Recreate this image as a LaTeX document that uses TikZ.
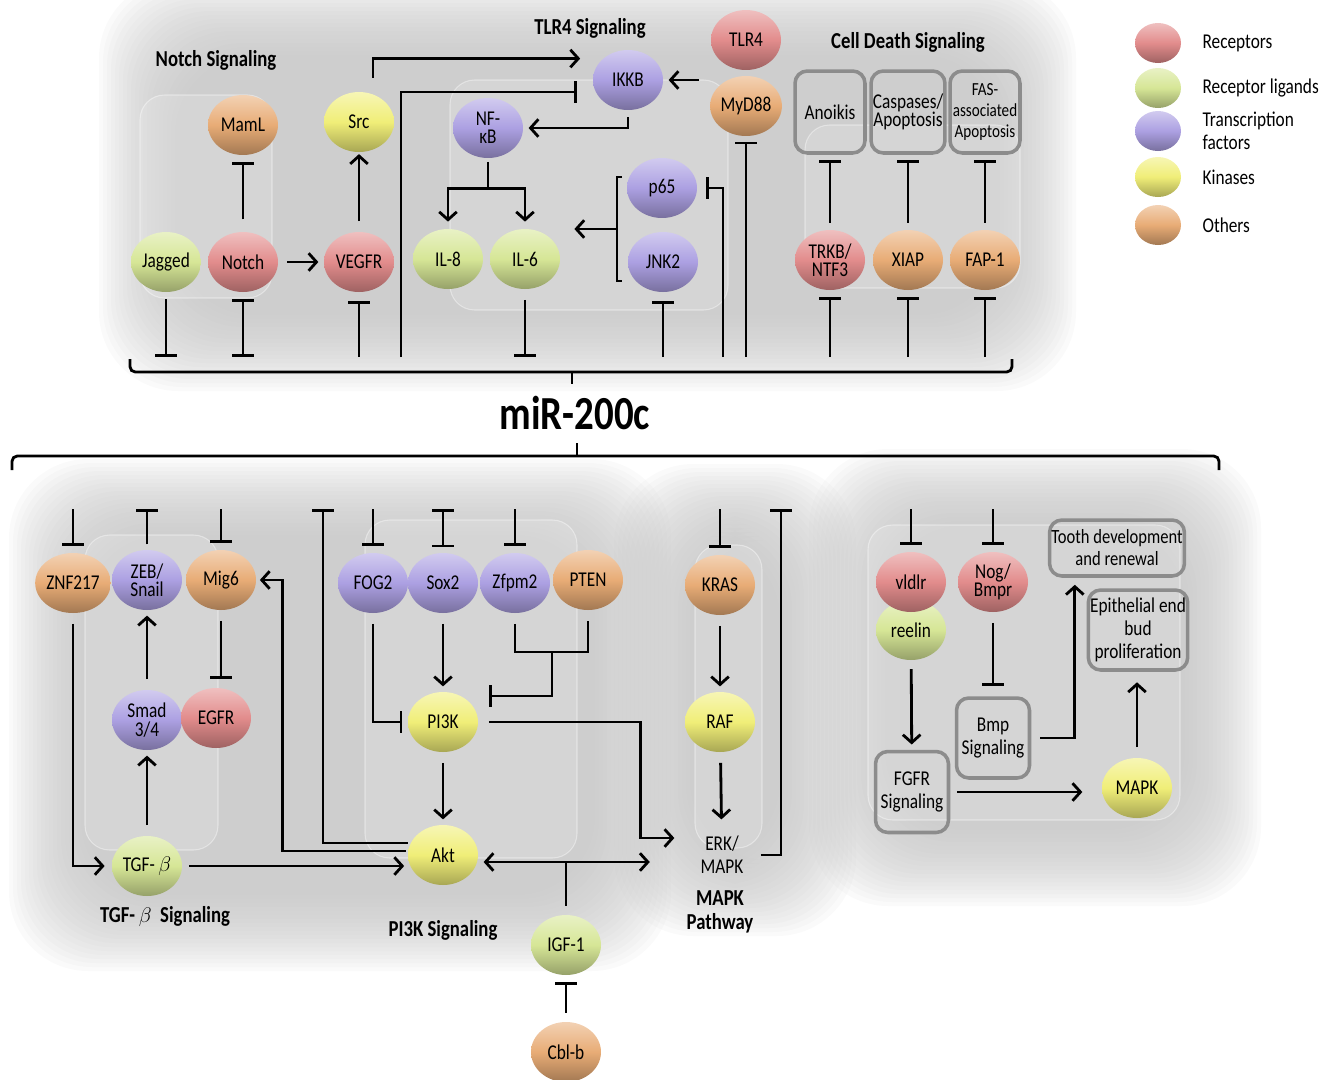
\documentclass[tikz,border=0pt]{standalone}
\usepackage{fontspec}
\setmainfont{Carlito}[FakeStretch=0.82]
\usetikzlibrary{shapes.geometric, arrows.meta, positioning, calc}

\definecolor{recc}{RGB}{226,140,140}
\definecolor{ligc}{RGB}{214,230,150}
\definecolor{tfc}{RGB}{172,160,226}
\definecolor{kinc}{RGB}{240,238,120}
\definecolor{othc}{RGB}{232,172,118}

\newcommand{\molfont}{\fontsize{12}{10.5}\selectfont}
\newcommand{\ttlfont}{\fontsize{13}{14}\selectfont\bfseries}
\newcommand{\lgfont}{\fontsize{12}{13}\selectfont}

% soft grey zone behind a group
\newcommand{\softzone}[4]{%
  \foreach \k in {0,...,19} {
    \fill[black!24, opacity=0.08, rounded corners=45pt]
      ({#1-\k*4},{#2-\k*4}) rectangle ({#3+\k*4},{#4+\k*4});
  }}

\tikzset{
  mol/.style={ellipse, minimum width=1.4cm, minimum height=1.2cm, inner sep=0pt,
    align=center, font=\molfont,
    top color=#1!55!white, bottom color=#1!70!black, middle color=#1},
  proc/.style={draw=black!45, line width=2pt, rounded corners=7pt,
    align=center, font=\molfont, inner sep=1pt},
  line/.style={line width=1.6pt},
  act/.style={line, -{Straight Barb[length=4.5pt,width=10pt]}},
  dact/.style={line, {Straight Barb[length=4.5pt,width=10pt]}-{Straight Barb[length=4.5pt,width=10pt]}},
  inh/.style={line, -{Bar[width=12pt]}},
  dinh/.style={line, {Bar[width=12pt]}-{Bar[width=12pt]}},
  ttl/.style={font=\ttlfont, align=center},
  panel/.style={fill=white, fill opacity=0.15, draw=white, draw opacity=0.4,
    line width=0.6pt, rounded corners=14pt}
}

\begin{document}
\begin{tikzpicture}[x=0.02cm, y=-0.02cm]
\useasboundingbox (0,0) rectangle (1329,1079);

% Grey zones
\softzone{175}{55}{1000}{315}
\softzone{85}{535}{595}{895}
\softzone{690}{540}{780}{860}
\softzone{885}{525}{1185}{830}

% Inner panels
\path[panel] (140,95) rectangle (272,298);
\path[panel] (450,80) rectangle (728,310);
\path[panel] (805,125) rectangle (1020,288);
\path[panel] (85,535) rectangle (218,850);
\path[panel] (365,520) rectangle (577,858);
\path[panel] (695,545) rectangle (762,848);
\path[panel] (868,525) rectangle (1180,820);

% Titles
\node[ttl] (tnotch) at (216,60) {Notch Signaling};
\node[ttl] (ttlr) at (590,28) {TLR4 Signaling};
\node[ttl] (tdeath) at (908,42) {Cell Death Signaling};
\node[ttl] (ttgf) at (165,917) {TGF-\,$\beta$\ \ Signaling};
\node[ttl] (tpi3k) at (443,930) {PI3K Signaling};
\node[ttl] (tmapk) at (720,912) {MAPK\\Pathway};

% Notch / TLR4 / cell death molecules
\node[mol=othc] (maml) at (243,125) {MamL};
\node[mol=kinc] (src) at (359,122) {Src};
\node[mol=ligc] (jag) at (166,262) {Jagged};
\node[mol=recc] (notch) at (243,262) {Notch};
\node[mol=recc] (vegfr) at (359,262) {VEGFR};
\node[mol=tfc] (ikkb) at (628,80) {IKKB};
\node[mol=recc] (tlr) at (746,40) {TLR4};
\node[mol=othc] (myd) at (746,106) {MyD88};
\node[mol=tfc] (nfkb) at (488,128) {NF-\\κB};
\node[mol=tfc] (p65) at (662,188) {p65};
\node[mol=tfc] (jnk) at (663,262) {JNK2};
\node[mol=ligc] (il8) at (448,259) {IL-8};
\node[mol=ligc] (il6) at (525,259) {IL-6};
\node[mol=recc] (trkb) at (830,260) {TRKB/\\NTF3};
\node[mol=othc] (xiap) at (908,260) {XIAP};
\node[mol=othc] (fap) at (985,260) {FAP-1};
\node[proc, minimum width=1.4cm, minimum height=1.64cm] (anoikis) at (830,112) {Anoikis};
\node[proc, minimum width=1.46cm, minimum height=1.64cm] (casp) at (908,112) {Caspases/\\Apoptosis};
\node[proc, minimum width=1.4cm, minimum height=1.64cm,
  font=\fontsize{10.5}{12}\selectfont] (fasap) at (985,112) {FAS-\\associated\\Apoptosis};

% Legend
\foreach \c/\lbl/\y [count=\i] in {recc/Receptors/43, ligc/Receptor ligands/88,
    tfc/{Transcription\\factors}/131, kinc/Kinases/177, othc/Others/225} {
  \node[mol=\c, minimum width=0.92cm, minimum height=0.8cm] (lg\i) at (1158,\y) {};
  \node[right=0.3cm of lg\i, align=left, font=\lgfont] (lgt\i) {\lbl};
}

% miR-200c and braces
\coordinate (tb) at (572,357);
\coordinate (bb) at (577,509);
\draw[line, rounded corners=3pt] (130,359) -- (130,372) -- (1012,372) -- (1012,359);
\draw[line] (572,372) -- (572,384);
\node[font=\fontsize{27}{28}\selectfont\bfseries] (mir) at (575,413) {miR-200c};
\draw[line, rounded corners=3pt] (12,470) -- (12,456) -- (1219,456) -- (1219,470);
\draw[line] (577,456) -- (577,443);

% free ends
\coordinate (ikkbin) at (401,357);
\coordinate (p65in) at (723,357);
\coordinate (aktout) at (323,509);
\coordinate (erkout) at (781,509);
\coordinate (zpm) at (552,652);
\coordinate (brk) at (617,229);

% Top connectors
\draw[inh, shorten <=7pt, shorten >=4pt] (notch) -- (maml);
\draw[act, shorten <=5pt, shorten >=3pt] (notch) -- (vegfr);
\draw[act, shorten <=6pt, shorten >=1pt] (vegfr) -- (src);
\draw[act, shorten >=13pt] ([xshift=0.28cm,yshift=0.28cm]src.north) |- (ikkb.north west);
\draw[inh, shorten >=9pt] (ikkbin) |- ([yshift=-0.24cm]ikkb.west);
\draw[act, shorten <=6pt, shorten >=3pt] (ikkb.east -| myd.west) -- (ikkb.east);
\draw[act, shorten <=4pt, shorten >=3pt] (ikkb.south) |- (nfkb.east);
\draw[line, shorten <=2pt] (nfkb.south) -- ++(0,30) coordinate (nfs);
\draw[act, shorten >=4pt] (nfs) -| (il8);
\draw[act, shorten >=4pt] (nfs) -| (il6);
\draw[line] (622,177) -- (617,177) -- (617,281) -- (622,281);
\draw[act, shorten >=8pt] (brk) -- (brk -| il6.east);

\draw[inh, shorten <=4pt] (jag.south) -- (jag.south |- tb);
\draw[dinh, shorten <=4pt] (notch.south) -- (notch.south |- tb);
\draw[inh, shorten >=5pt] (vegfr.south |- tb) -- (vegfr.south);
\draw[inh, shorten <=6pt] (il6.south) -- (il6.south |- tb);
\draw[inh, shorten >=5pt] (jnk.south |- tb) -- (jnk.south);
\draw[inh, shorten >=5pt] (p65in) |- (p65.east);
\draw[inh, shorten >=3pt] (myd.south |- tb) -- (myd.south);
\foreach \m/\b in {trkb/anoikis, xiap/casp, fap/fasap} {
  \draw[inh, shorten <=4pt, shorten >=3pt] (\m) -- (\b);
  \draw[inh, shorten >=4pt] (\m.south |- tb) -- (\m.south);
}

% TGF-beta molecules
\node[mol=othc] (znf) at (73,583) {ZNF217};
\node[mol=tfc] (zeb) at (147,580) {ZEB/\\Snail};
\node[mol=othc] (mig) at (221,580) {Mig6};
\node[mol=tfc] (smad) at (147,720) {Smad\\3/4};
\node[mol=recc] (egfr) at (216,718) {EGFR};
\node[mol=ligc] (tgf) at (147,866) {TGF-\,$\beta$};

% PI3K / MAPK molecules
\node[mol=tfc] (fog) at (373,583) {FOG2};
\node[mol=tfc] (sox) at (443,583) {Sox2};
\node[mol=tfc] (zfpm) at (515,583) {Zfpm2};
\node[mol=othc] (pten) at (588,580) {PTEN};
\node[mol=kinc] (pi3k) at (443,722) {PI3K};
\node[mol=kinc] (akt) at (443,855) {Akt};
\node[mol=ligc] (igf) at (566,945) {IGF-1};
\node[mol=othc] (cbl) at (566,1052) {Cbl-b};
\node[mol=othc] (kras) at (720,585) {KRAS};
\node[mol=kinc] (raf) at (720,722) {RAF};
\node[minimum width=1.4cm, minimum height=1.2cm, inner sep=0pt, align=center,
  font=\fontsize{12}{13}\selectfont] (erk) at (722,855) {ERK/\\MAPK};

% Tooth molecules
\node[mol=ligc] (reelin) at (911,630) {reelin};
\node[mol=recc] (vldlr) at (911,582) {vldlr};
\node[mol=recc] (nog) at (993,582) {Nog/\\Bmpr};
\node[mol=kinc] (mapk) at (1137,788) {MAPK};
\node[proc, minimum width=2.66cm, minimum height=1.12cm,
  font=\fontsize{11.5}{12.5}\selectfont] (tooth) at (1117,548) {Tooth development\\and renewal};
\node[proc, minimum width=1.98cm, minimum height=1.6cm,
  font=\fontsize{12}{13}\selectfont] (epi) at (1138,630) {Epithelial end\\bud\\proliferation};
\node[proc, minimum width=1.46cm, minimum height=1.6cm,
  font=\fontsize{12}{13}\selectfont] (bmp) at (993,738) {Bmp\\Signaling};
\node[proc, minimum width=1.46cm, minimum height=1.62cm,
  font=\fontsize{12}{13}\selectfont] (fgfr) at (912,792) {FGFR\\Signaling};

% Bottom connectors
\foreach \m in {znf, mig, fog, zfpm, kras, vldlr, nog}
  \draw[inh, shorten >=4pt] (\m.north |- bb) -- (\m.north);
\draw[inh, shorten <=3pt] (zeb.north) -- (zeb.north |- bb);
\draw[dinh, shorten <=3pt] (sox.north) -- (sox.north |- bb);

\draw[act, shorten <=6pt, shorten >=4pt] (znf.south) |- (tgf.west);
\draw[act, shorten <=6pt, shorten >=3pt] (tgf) -- (smad);
\draw[act, shorten <=6pt, shorten >=3pt] (smad) -- (zeb);
\draw[inh, shorten <=6pt, shorten >=5pt] (mig.south) -- (mig.south |- egfr.north);
\draw[act, shorten <=4pt, shorten >=2pt] (tgf.east) -- (tgf.east -| akt.west);
\draw[act, shorten <=1pt, shorten >=2pt] ([yshift=0.08cm]akt.west) -- ++(-125,0) |- (mig.east);
\draw[inh] ([yshift=0.24cm]akt.west) -| (aktout);

\draw[inh, shorten <=6pt, shorten >=3pt] (fog.south) |- (pi3k.west);
\draw[act, shorten <=6pt, shorten >=3pt] (sox) -- (pi3k);
\draw[line, shorten <=6pt, shorten >=6pt] (zfpm.south) |- (zpm) -| (pten.south);
\draw[inh, shorten >=6pt] (zpm) |- ([yshift=0.52cm]pi3k.east);
\draw[act, shorten <=6pt, shorten >=3pt] (pi3k) -- (akt);
\draw[act, shorten <=6pt, shorten >=7pt] (pi3k.east) -- ++(162,0) |- ([yshift=0.34cm]erk.west);
\coordinate (axis) at ([yshift=-0.14cm]akt.east);
\draw[dact, shorten <=3pt, shorten >=21pt] (axis) -- (axis -| erk.west);
\draw[line, shorten <=5pt] (igf.north) -- (igf.north |- axis);
\draw[inh, shorten <=5pt, shorten >=4pt] (cbl) -- (igf);
\draw[act, shorten <=6pt, shorten >=3pt] (kras) -- (raf);
\draw[act, shorten <=6pt, shorten >=3pt] (raf) -- (erk);
\draw[inh, shorten <=2pt] (erk.east) -| (erkout);

\draw[act, shorten <=5pt, shorten >=3pt] (reelin) -- (fgfr);
\draw[inh, shorten <=6pt, shorten >=6pt] (nog) -- (bmp);
\draw[act, shorten <=5pt, shorten >=4pt] (bmp.east) -| ([xshift=0.54cm]tooth.south west);
\draw[act, shorten <=4pt, shorten >=11pt] (fgfr.east) -- (fgfr.east -| mapk.west);
\draw[act, shorten <=6pt, shorten >=6pt] (mapk.north) -- (mapk.north |- epi.south);

\end{tikzpicture}
\end{document}
